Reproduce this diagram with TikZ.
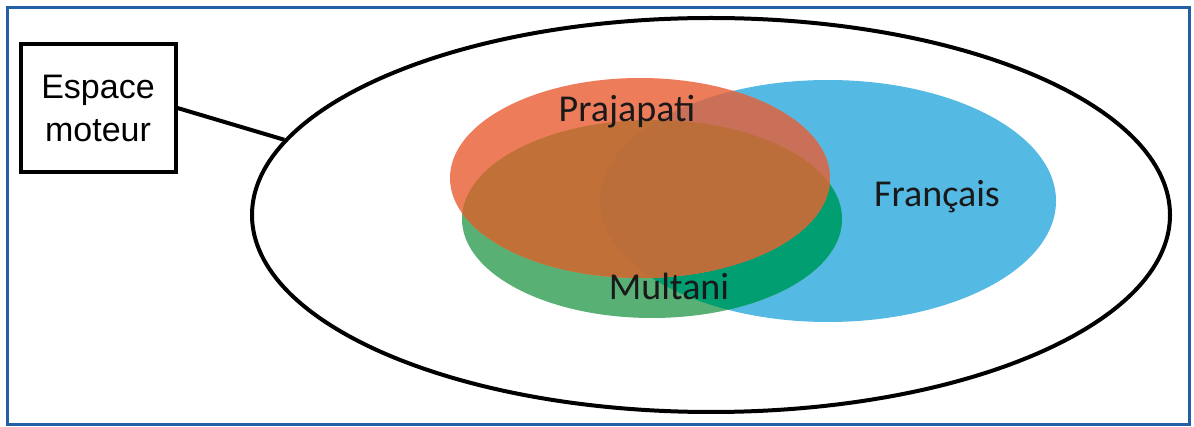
\documentclass[tikz,border=0pt]{standalone}
\usepackage{fontspec}
\setmainfont{Carlito}
\newfontfamily\carlitof{Carlito}
\newfontfamily\arialf{Liberation Sans}
\usetikzlibrary{shapes.geometric}
\definecolor{frameblue}{RGB}{35,95,165}
\definecolor{cBlue}{RGB}{84,185,227}
\definecolor{cGreen}{RGB}{88,176,116}
\definecolor{cGreenBlue}{RGB}{0,158,112}
\definecolor{cOrange}{RGB}{237,125,90}
\definecolor{cOrangeBlue}{RGB}{202,112,88}
\definecolor{cOrangeGreen}{RGB}{193,112,56}
\definecolor{cOrangeAll}{RGB}{188,110,58}
\tikzset{
  outline/.style={draw=black, line width=4pt},
  labeltxt/.style={font=\carlitof\fontsize{38}{44}\selectfont, anchor=base, inner sep=0pt, text=black!90},
  boxstyle/.style={outline, fill=white, minimum width=155pt, minimum height=128pt, inner sep=0pt, align=center, font=\arialf\fontsize{34}{43}\selectfont},
}
\def\blueE{(828,201) ellipse [x radius=228, y radius=121]}
\def\greenE{(652,219) ellipse [x radius=190, y radius=99]}
\def\orangeE{(640,178) ellipse [x radius=190, y radius=100]}
\begin{document}
\begin{tikzpicture}[x=1pt,y=-1pt]
\useasboundingbox (0,0) rectangle (1194,427);
\fill[white] (0,0) rectangle (1194,427);
\draw[frameblue, line width=2.5pt] (7.5,7.5) rectangle (1189.5,424.5);
% big ellipse
\node[outline, ellipse, fill=white, minimum width=918pt, minimum height=394pt, inner sep=0pt] (space) at (711,215) {};
% blue
\fill[cBlue] \blueE;
% green
\fill[cGreen] \greenE;
\begin{scope}
  \clip \blueE;
  \fill[cGreenBlue] \greenE;
\end{scope}
% orange
\fill[cOrange] \orangeE;
\begin{scope}
  \clip \orangeE;
  \fill[cOrangeBlue] \blueE;
\end{scope}
\begin{scope}
  \clip \orangeE;
  \fill[cOrangeGreen] \greenE;
\end{scope}
\begin{scope}
  \clip \orangeE;
  \clip \greenE;
  \fill[cOrangeAll] \blueE;
\end{scope}
% labels
\node[labeltxt] (praj) at (627,122) {Prajapati};
\node[labeltxt] (mult) at (669,300) {Multani};
\node[labeltxt] (fr) at (937,207) {Français};
% box
\node[boxstyle] (box) at (98,108) {Espace\\moteur};
\draw[line width=4pt] (box.east) -- (space.170);
\end{tikzpicture}
\end{document}
